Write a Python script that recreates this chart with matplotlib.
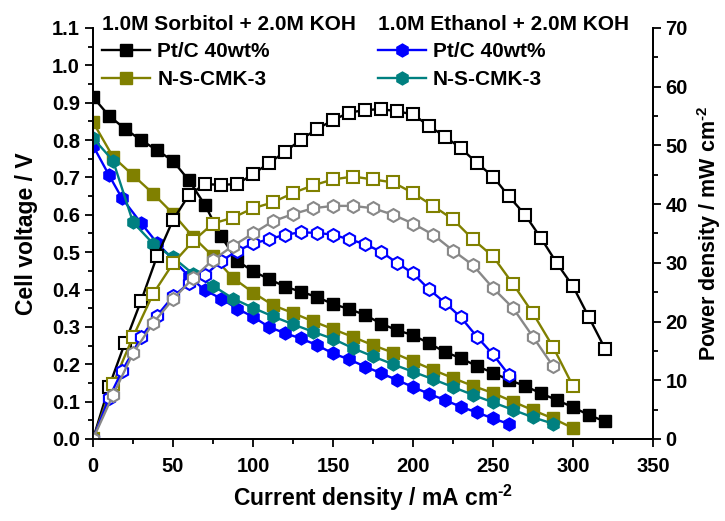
import matplotlib
matplotlib.use("Agg")
import matplotlib.pyplot as plt
from matplotlib.ticker import MultipleLocator, FormatStrFormatter

plt.rcParams['font.family'] = 'Liberation Sans'
plt.rcParams['font.weight'] = 'bold'
plt.rcParams['mathtext.fontset'] = 'custom'
plt.rcParams['mathtext.rm'] = 'Liberation Sans:bold'
plt.rcParams['mathtext.default'] = 'rm'

# 1.0M sorbitol + 2.0M KOH
sorb_pt_j = [0, 10, 20, 30, 40, 50, 60, 70, 80, 90, 100, 110, 120, 130, 140, 150, 160,
             170, 180, 190, 200, 210, 220, 230, 240, 250, 260, 270, 280, 290, 300, 310, 320]
sorb_pt_v = [0.915, 0.865, 0.83, 0.80, 0.773, 0.744, 0.692, 0.626, 0.543, 0.477, 0.449,
             0.428, 0.408, 0.394, 0.38, 0.361, 0.348, 0.332, 0.309, 0.291, 0.278, 0.256,
             0.233, 0.216, 0.195, 0.177, 0.158, 0.142, 0.122, 0.104, 0.085, 0.064, 0.047]
sorb_pt_p = [0, 8.9, 16.4, 23.5, 31.1, 37.3, 41.6, 43.4, 43.3, 43.4, 45.1, 47.0, 48.9,
             51.0, 52.8, 54.3, 55.6, 56.0, 56.2, 55.8, 55.3, 53.3, 51.5, 49.5, 47.0, 44.7,
             41.3, 38.2, 34.2, 29.9, 26.0, 20.7, 15.4]

sorb_ns_j = [0, 12.5, 25, 37.5, 50, 62.5, 75, 87.5, 100, 112.5, 125, 137.5, 150, 162.5,
             175, 187.5, 200, 212.5, 225, 237.5, 250, 262.5, 275, 287.5, 300]
sorb_ns_v = [0.848, 0.755, 0.706, 0.657, 0.603, 0.541, 0.489, 0.431, 0.392, 0.358, 0.337,
             0.315, 0.294, 0.273, 0.251, 0.231, 0.208, 0.185, 0.163, 0.142, 0.123, 0.10,
             0.077, 0.055, 0.029]
sorb_ns_p = [0, 9.4, 17.4, 24.7, 29.9, 33.7, 36.7, 37.7, 39.3, 40.3, 41.9, 43.2, 44.2,
             44.7, 44.2, 43.7, 41.9, 39.7, 37.4, 34.0, 31.1, 26.4, 21.4, 15.7, 9.0]

# 1.0M ethanol + 2.0M KOH
eth_pt_j = [0, 10, 18, 30, 40, 50, 60, 70, 80, 90, 100, 110, 120, 130, 140, 150, 160,
            170, 180, 190, 200, 210, 220, 230, 240, 250, 260]
eth_pt_v = [0.785, 0.706, 0.645, 0.578, 0.525, 0.48, 0.435, 0.398, 0.376, 0.349, 0.327,
            0.30, 0.283, 0.269, 0.251, 0.229, 0.213, 0.194, 0.176, 0.158, 0.139, 0.121,
            0.104, 0.086, 0.071, 0.055, 0.04]
eth_pt_p = [0, 7.0, 11.5, 17.3, 21.0, 24.3, 26.5, 27.9, 30.3, 32.0, 33.3, 34.0, 34.8,
            35.2, 35.1, 34.8, 34.0, 33.2, 31.9, 30.0, 28.2, 25.5, 23.2, 20.7, 17.4, 14.4, 10.9]

eth_ns_j = [0, 12.5, 25, 37.5, 50, 62.5, 75, 87.5, 100, 112.5, 125, 137.5, 150, 162.5,
            175, 187.5, 200, 212.5, 225, 237.5, 250, 262.5, 275, 287.5]
eth_ns_v = [0.805, 0.745, 0.58, 0.523, 0.486, 0.442, 0.41, 0.376, 0.351, 0.328, 0.307,
            0.287, 0.268, 0.243, 0.221, 0.20, 0.18, 0.16, 0.139, 0.118, 0.098, 0.078,
            0.058, 0.041]
eth_ns_p = [0, 7.5, 14.6, 19.7, 23.8, 27.4, 30.5, 32.9, 35.0, 37.1, 38.3, 39.3, 39.7,
            39.7, 39.3, 38.2, 36.7, 34.8, 32.1, 29.6, 25.7, 22.3, 17.4, 12.4]

fig = plt.figure(figsize=(7.25, 5.21), dpi=100)
ax = fig.add_axes([0.1283, 0.1574, 0.7724, 0.7889])
ax2 = ax.twinx()

lw = 1.7
sq = 8.3
hx = 9.3

# power curves (open markers)
ax2.plot(sorb_pt_j, sorb_pt_p, '-s', color='black', lw=lw, ms=sq, mfc='white', mec='black', mew=1.5)
ax2.plot(sorb_ns_j, sorb_ns_p, '-s', color='#808000', lw=lw, ms=sq, mfc='white', mec='#808000', mew=1.5)
ax2.plot(eth_pt_j, eth_pt_p, '-h', color='#0000ff', lw=lw, ms=hx, mfc='white', mec='#0000ff', mew=1.5)
ax2.plot(eth_ns_j, eth_ns_p, '-h', color='#888888', lw=lw, ms=hx, mfc='white', mec='#888888', mew=1.5)

# polarization curves (filled markers)
h_sp, = ax.plot(sorb_pt_j, sorb_pt_v, '-s', color='black', lw=lw, ms=sq)
h_sn, = ax.plot(sorb_ns_j, sorb_ns_v, '-s', color='#808000', lw=lw, ms=sq)
h_ep, = ax.plot(eth_pt_j, eth_pt_v, '-h', color='#0000ff', lw=lw, ms=hx)
h_en, = ax.plot(eth_ns_j, eth_ns_v, '-h', color='#008080', lw=lw, ms=hx)

ax.set_xlim(0, 350)
ax.set_ylim(0, 1.1)
ax2.set_ylim(0, 70)
ax.xaxis.set_major_locator(MultipleLocator(50))
ax.xaxis.set_minor_locator(MultipleLocator(25))
ax.yaxis.set_major_locator(MultipleLocator(0.1))
ax.yaxis.set_minor_locator(MultipleLocator(0.05))
ax2.yaxis.set_major_locator(MultipleLocator(10))
ax2.yaxis.set_minor_locator(MultipleLocator(5))
ax.yaxis.set_major_formatter(FormatStrFormatter('%.1f'))

for a in (ax, ax2):
    a.spines['top'].set_visible(False)
    for s in a.spines.values():
        s.set_linewidth(1.3)
    a.tick_params(which='major', direction='out', length=6, width=1.3, labelsize=14.5)
    a.tick_params(which='minor', direction='out', length=3.5, width=1.3)
ax.tick_params(axis='x', which='major', pad=7)
ax2.tick_params(axis='y', which='major', pad=3)

ax.set_xlabel(r'Current density / mA cm$^{\text{-2}}$', fontsize=16.5, fontweight='bold', labelpad=5)
ax.set_ylabel('Cell voltage / V', fontsize=16.5, fontweight='bold', labelpad=10)
ax2.set_ylabel(r'Power density / mW cm$^{\text{-2}}$', fontsize=15.5, fontweight='bold', labelpad=5)

leg_kw = dict(loc='upper left', bbox_transform=fig.transFigure, frameon=False,
              alignment='left', prop={'weight': 'bold', 'size': 15},
              title_fontproperties={'weight': 'bold', 'size': 15},
              handlelength=2.3, handletextpad=0.35, labelspacing=0.42,
              borderpad=0, borderaxespad=0, numpoints=1)
leg1 = ax2.legend([h_sp, h_sn], ['Pt/C 40wt%', 'N-S-CMK-3'],
                  title='1.0M Sorbitol + 2.0M KOH', bbox_to_anchor=(0.141, 0.972), **leg_kw)
ax2.add_artist(leg1)
ax2.legend([h_ep, h_en], ['Pt/C 40wt%', 'N-S-CMK-3'],
           title='1.0M Ethanol + 2.0M KOH', bbox_to_anchor=(0.521, 0.972), **leg_kw)

fig.savefig('out.png', dpi=100)
